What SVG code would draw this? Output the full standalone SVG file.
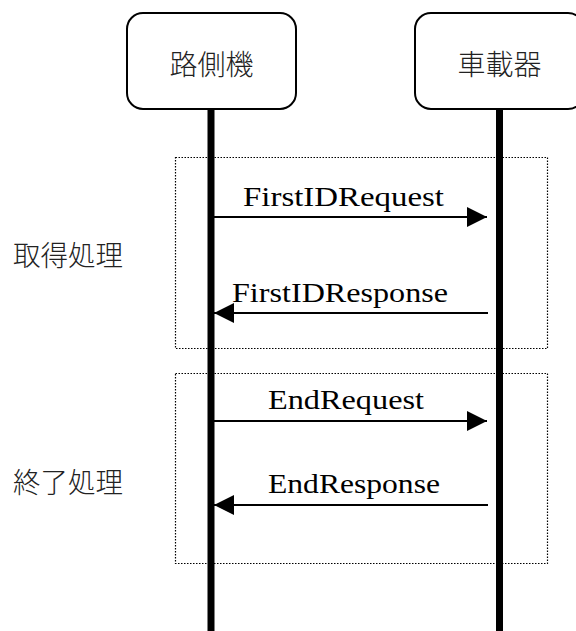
<svg xmlns="http://www.w3.org/2000/svg" width="576" height="631" viewBox="0 0 576 631">
<style>
.actor{fill:#fff;stroke:#000;stroke-width:2}
.life{stroke:#000;stroke-width:7}
.frame{fill:none;stroke:#000;stroke-width:1.2;stroke-dasharray:1.5 1.5}
.msg{stroke:#000;stroke-width:2;fill:none}
.jp{font-family:"Noto Sans CJK JP","Noto Sans CJK SC",sans-serif;font-size:28px;font-weight:300;fill:#222}
.lbl{font-family:"Liberation Serif","DejaVu Serif",serif;font-size:28px;fill:#000}
</style>
<defs>
<marker id="ah" viewBox="0 0 20 20" refX="20" refY="10" markerWidth="20" markerHeight="20" markerUnits="userSpaceOnUse" orient="auto">
<path d="M0,0 L20,10 L0,20 Z" fill="#000"/>
</marker>
</defs>
<rect width="576" height="631" fill="#fff"/>
<g id="frames">
<rect class="frame" x="175.5" y="157.5" width="372" height="191"/>
<rect class="frame" x="175.5" y="373.5" width="372" height="190"/>
</g>
<g id="lifelines">
<line class="life" x1="211" y1="109" x2="211" y2="631"/>
<line class="life" x1="499.5" y1="109" x2="499.5" y2="631"/>
</g>
<g id="roadside">
<rect class="actor" x="127" y="13" width="169" height="96" rx="16"/>
<text class="jp" x="211.5" y="75" text-anchor="middle">路側機</text>
</g>
<g id="onboard">
<rect class="actor" x="415" y="13" width="169" height="96" rx="16"/>
<text class="jp" x="499.5" y="75" text-anchor="middle">車載器</text>
</g>
<g id="phase-acquire">
<text class="jp" x="13" y="266" textLength="110" lengthAdjust="spacingAndGlyphs">取得処理</text>
</g>
<g id="phase-end">
<text class="jp" x="13" y="493" textLength="110" lengthAdjust="spacingAndGlyphs">終了処理</text>
</g>
<g id="connectors">
<line class="msg" x1="214" y1="217" x2="487" y2="217" marker-end="url(#ah)"/>
<line class="msg" x1="488" y1="313" x2="214" y2="313" marker-end="url(#ah)"/>
<line class="msg" x1="214" y1="421" x2="487" y2="421" marker-end="url(#ah)"/>
<line class="msg" x1="488" y1="505" x2="214" y2="505" marker-end="url(#ah)"/>
</g>
<g id="labels">
<text class="lbl" x="243" y="206" textLength="201" lengthAdjust="spacingAndGlyphs">FirstIDRequest</text>
<text class="lbl" x="232" y="302" textLength="216" lengthAdjust="spacingAndGlyphs">FirstIDResponse</text>
<text class="lbl" x="268" y="409" textLength="156" lengthAdjust="spacingAndGlyphs">EndRequest</text>
<text class="lbl" x="268" y="493" textLength="172" lengthAdjust="spacingAndGlyphs">EndResponse</text>
</g>
</svg>
